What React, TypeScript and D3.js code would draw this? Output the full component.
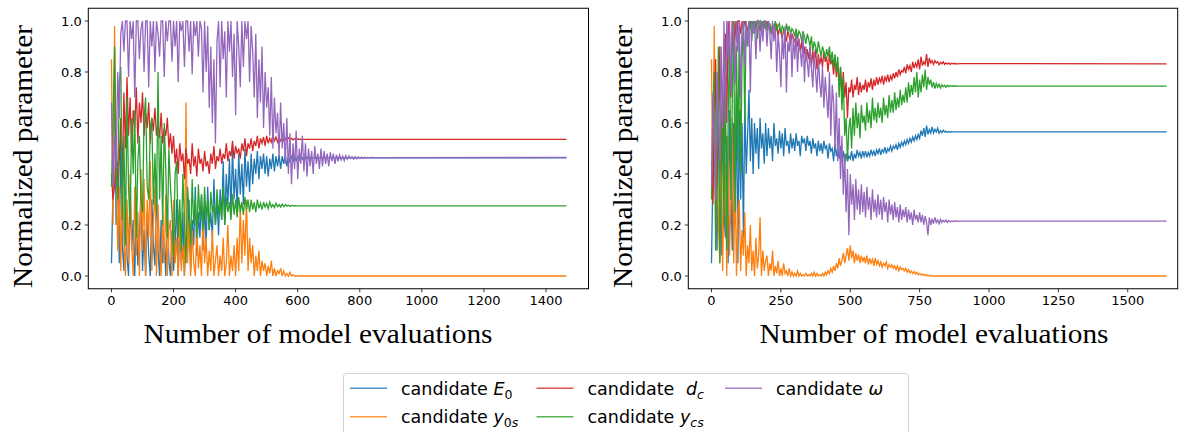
import React from 'react';
import * as d3 from 'd3';

// ---------------- data ----------------
const seriesKeys = ['E0', 'y0s', 'dc', 'ycs', 'omega'];
const colors: Record<string, string> = {
  E0: '#1f77b4', y0s: '#ff7f0e', dc: '#d62728', ycs: '#2ca02c', omega: '#9467bd',
};

// left run: samples every 5 model evaluations, then the converged value at the last evaluation
const leftStep = 5;
const leftLastEval = 1466;
const leftXTicks = [0, 200, 400, 600, 800, 1000, 1200, 1400];

const leftE0 = [
  .05,.35,.82,.20,.45,.05,.55,.12,.02,.30,
  .08,.0,.35,.10,.22,.0,.28,.04,.15,.32,
  .02,.18,.0,.25,.08,.0,.30,.12,.04,.38,
  .10,.0,.22,.05,.15,.0,.28,.06,.0,.18,
  .02,.12,.30,.0,.20,.05,.25,.0,.15,.10,
  .30,.02,.22,.12,.35,.08,.25,.15,.32,.10,
  .28,.12,.35,.18,.25,.15,.38,.20,.30,.16,
  .34,.22,.45,.20,.40,.28,.46,.25,.50,.30,
  .42,.26,.48,.32,.44,.28,.50,.35,.45,.33,
  .48,.36,.46,.40,.49,.38,.47,.42,.48,.40,
  .47,.39,.46,.42,.48,.41,.47,.43,.475,.42,
  .47,.44,.475,.43,.47,.445,.472,.45,.47,.452,
  .468,.455,.47,.458,.468,.46,.466,.46,.465,.462,
  .465,.462,.464,.463];
const leftY0s = [
  .85,.20,.98,.45,.10,.35,.02,.42,.15,.0,
  .30,.05,.40,.12,.0,.35,.08,.25,.0,.42,
  .10,.38,.0,.30,.15,.45,.02,.22,.35,.0,
  .28,.10,.0,.25,.05,.32,.0,.18,.22,.0,
  .30,.05,.15,.0,.25,.02,.12,.0,.68,.05,
  .22,.0,.18,.05,.0,.20,.03,.12,.0,.25,
  .05,.15,.0,.10,.02,.18,.0,.06,.12,.0,
  .08,.02,.15,.0,.05,.20,.0,.08,.02,.12,
  .0,.15,.02,.28,.05,.22,.08,.30,.02,.15,
  .05,.12,.0,.08,.02,.10,.0,.06,.02,.05,
  .0,.04,.01,.06,.0,.03,.0,.02,.01,.03,
  .0,.02,.0,.01,.0,.015,.0,.005,.0,.0];
const leftDc = [
  .40,.30,.35,.55,.32,.45,.62,.38,.72,.50,
  .78,.55,.70,.48,.65,.58,.74,.52,.68,.60,
  .72,.55,.64,.58,.68,.52,.62,.57,.66,.55,
  .60,.54,.64,.52,.58,.55,.62,.50,.56,.48,
  .55,.44,.50,.40,.52,.45,.48,.38,.50,.44,
  .46,.40,.52,.43,.47,.39,.50,.44,.46,.41,
  .49,.43,.45,.40,.48,.44,.51,.42,.47,.45,
  .50,.44,.48,.46,.52,.45,.49,.47,.53,.46,
  .51,.48,.50,.46,.52,.49,.54,.47,.52,.50,
  .54,.49,.53,.51,.55,.50,.54,.52,.545,.51,
  .55,.52,.54,.525,.55,.53,.545,.525,.54,.53,
  .545,.53,.54,.532,.542,.535,.54,.534,.538,.535,
  .538,.535,.537,.535,.536];
const leftYcs = [
  .35,.60,.90,.40,.30,.75,.82,.22,.55,.12,
  .70,.35,.20,.62,.40,.65,.15,.45,.55,.30,
  .25,.62,.70,.35,.30,.58,.62,.28,.48,.25,
  .80,.30,.55,.20,.60,.42,.15,.50,.35,.25,
  .08,.40,.45,.15,.30,.10,.40,.22,.05,.35,
  .25,.12,.38,.20,.30,.15,.36,.22,.32,.18,
  .35,.22,.30,.18,.33,.25,.28,.20,.34,.24,
  .30,.22,.35,.20,.31,.25,.29,.22,.32,.24,
  .30,.23,.31,.25,.29,.24,.31,.26,.30,.25,
  .30,.26,.29,.25,.30,.265,.285,.26,.29,.27,
  .285,.265,.29,.27,.28,.268,.285,.272,.28,.27,
  .282,.272,.28,.274,.278,.273,.277,.275,.276,.275];
const leftOmega = [
  .68,.35,.55,.42,.80,.62,.95,
  1.0,.88,1.0,1.0,.78,1.0,.93,1.0,.70,1.0,
  1.0,.85,.97,1.0,.80,1.0,1.0,.74,1.0,.90,
  1.0,.80,1.0,.95,.86,1.0,1.0,.78,1.0,.92,
  1.0,1.0,.84,1.0,.90,1.0,.76,1.0,.96,1.0,
  .82,1.0,1.0,.88,1.0,.79,1.0,.94,1.0,.86,
  1.0,.97,.72,1.0,.80,.98,.66,.90,.60,.85,
  .52,.92,1.0,.74,1.0,.85,.96,.70,1.0,.88,
  1.0,.78,.95,.63,1.0,.90,.74,1.0,.82,1.0,
  .93,1.0,.76,.98,.88,.70,.95,.62,.85,.68,
  .90,.58,.80,.66,.74,.55,.78,.50,.70,.56,
  .64,.47,.68,.50,.60,.44,.62,.40,.56,.36,
  .52,.42,.57,.38,.50,.44,.55,.41,.52,.39,
  .50,.43,.49,.40,.51,.44,.48,.42,.50,.43,
  .49,.44,.48,.43,.485,.45,.48,.44,.475,.45,
  .475,.455,.47,.452,.472,.458,.47,.46,.468,.458,
  .468,.46,.467,.462,.466,.461,.466,.463,.465,.463,
  .465,.464,.465,.464];
const leftFinal = [.463, 0, .536, .275, .465];

// right run
const rightStep = 5;
const rightLastEval = 1640;
const rightXTicks = [0, 250, 500, 750, 1000, 1250, 1500];

const rightE0 = [
  .05,.40,.85,.30,.10,.60,.45,.08,.70,.25,
  .15,.55,.05,.65,.35,.10,.60,.20,.72,.05,
  .65,.30,.60,.15,.70,.40,.55,.73,.45,.62,
  .40,.60,.48,.58,.42,.62,.50,.56,.44,.60,
  .47,.58,.50,.55,.45,.60,.51,.54,.48,.57,
  .50,.56,.47,.58,.51,.53,.48,.56,.50,.54,
  .49,.56,.51,.53,.47,.55,.52,.54,.49,.55,
  .51,.53,.48,.54,.50,.52,.47,.53,.49,.52,
  .48,.53,.50,.51,.46,.52,.49,.50,.45,.52,
  .47,.50,.46,.51,.45,.49,.44,.48,.45,.47,
  .46,.49,.45,.48,.46,.495,.47,.485,.46,.49,
  .47,.49,.465,.485,.47,.495,.475,.49,.47,.495,
  .48,.50,.475,.495,.485,.505,.48,.50,.49,.51,
  .49,.51,.50,.515,.495,.52,.505,.525,.51,.53,
  .515,.535,.52,.54,.525,.545,.53,.55,.535,.555,
  .54,.57,.55,.58,.545,.59,.555,.575,.56,.585,
  .56,.575,.565,.58,.56,.57,.562,.572,.564,.568,
  .563,.567,.564,.566,.565,.565,.565];
const rightY0s = [
  .85,.30,.98,.10,.55,.20,.05,.60,.02,.35,
  .45,.0,.55,.08,.30,.62,.05,.40,.0,.25,
  .30,.02,.18,.08,.25,.0,.12,.05,.20,.02,
  .10,.0,.15,.03,.08,.23,.0,.10,.02,.06,
  .08,.0,.05,.02,.10,.0,.04,.01,.06,.0,
  .03,.0,.05,.01,.02,.0,.03,.0,.015,.0,
  .01,.0,.02,.0,.01,.0,.005,.0,.01,.0,
  .005,.0,.01,.0,.015,.0,.01,.0,.005,.0,
  .01,.0,.015,.005,.02,.01,.03,.015,.04,.02,
  .05,.03,.07,.04,.06,.09,.05,.08,.11,.06,
  .12,.07,.10,.05,.09,.06,.085,.05,.08,.055,
  .075,.05,.08,.045,.07,.05,.065,.04,.07,.045,
  .06,.04,.055,.035,.05,.04,.055,.03,.045,.035,
  .045,.03,.04,.025,.04,.02,.035,.025,.03,.02,
  .03,.015,.025,.012,.02,.01,.018,.008,.015,.005,
  .01,.004,.008,.002,.006,.0,.004,.0,.002,.0];
const rightDc = [
  .45,.28,.60,.85,.35,.55,.90,.40,.75,.50,
  .95,.60,1.0,.80,.70,1.0,.85,1.0,.92,1.0,
  1.0,.95,1.0,.97,1.0,.98,.96,1.0,.97,1.0,
  .98,1.0,.97,1.0,.99,.96,1.0,.98,1.0,.97,
  1.0,.97,.99,.95,.98,.97,.96,.99,.94,.97,
  .96,.93,.97,.95,.92,.96,.94,.91,.95,.93,
  .92,.95,.90,.93,.88,.92,.86,.90,.84,.89,
  .85,.90,.82,.88,.84,.89,.81,.87,.83,.86,
  .82,.88,.84,.86,.80,.87,.83,.85,.79,.86,
  .78,.84,.75,.82,.72,.80,.70,.76,.62,.74,
  .72,.77,.70,.75,.73,.78,.71,.76,.72,.75,
  .73,.77,.72,.76,.74,.775,.73,.77,.745,.78,
  .75,.775,.76,.785,.75,.78,.765,.79,.76,.785,
  .77,.795,.775,.80,.78,.81,.79,.805,.80,.82,
  .795,.83,.81,.825,.80,.84,.815,.835,.82,.85,
  .81,.86,.825,.84,.83,.87,.82,.855,.835,.845,
  .83,.845,.835,.84,.828,.838,.832,.84,.83,.836,
  .831,.835,.83,.834,.832,.834,.831,.833,.832,.833];
const rightYcs = [
  .30,.65,.80,.10,.50,.90,.05,.40,.75,.20,
  .85,.10,.60,.95,.30,.70,1.0,.25,.90,.45,
  .98,.40,.85,1.0,.60,1.0,.90,.98,1.0,.92,
  1.0,.95,1.0,.93,.99,1.0,.96,1.0,.97,1.0,
  .96,1.0,.98,.95,.99,.97,1.0,.96,.98,.99,
  .95,.98,.97,.94,.99,.96,.98,.95,.97,.96,
  .94,.97,.93,.96,.95,.92,.96,.94,.91,.95,
  .93,.90,.94,.88,.92,.90,.87,.92,.89,.86,
  .90,.88,.85,.89,.86,.90,.84,.88,.82,.87,
  .80,.86,.70,.82,.65,.78,.55,.62,.45,.58,
  .62,.50,.66,.55,.68,.58,.64,.54,.67,.60,
  .63,.57,.68,.60,.65,.58,.70,.61,.66,.60,
  .68,.62,.66,.60,.70,.63,.67,.62,.71,.64,
  .69,.64,.72,.65,.70,.66,.73,.67,.71,.68,
  .74,.68,.76,.70,.75,.71,.78,.72,.80,.70,
  .77,.72,.79,.74,.81,.73,.78,.75,.77,.74,
  .76,.735,.755,.74,.752,.737,.75,.742,.748,.74,
  .748,.743,.747,.744,.746,.745,.746,.744,.745,.745];
const rightOmega = [
  .35,.72,.55,.30,.80,.62,.45,.90,.58,1.0,
  .60,1.0,.85,1.0,.72,1.0,.95,.75,1.0,.88,
  1.0,.70,.98,1.0,.82,1.0,.90,1.0,.72,1.0,
  .95,1.0,.85,1.0,1.0,.88,1.0,.92,1.0,1.0,
  .90,1.0,.96,.85,1.0,.92,.98,.80,.95,.88,
  .74,.95,.85,.98,.72,.92,.88,.96,.78,.94,
  .85,.95,.80,.93,.88,.82,.95,.76,.90,.84,
  .78,.90,.82,.74,.88,.80,.72,.86,.76,.70,
  .82,.66,.78,.70,.62,.80,.55,.75,.68,.50,
  .72,.45,.62,.38,.55,.32,.48,.25,.42,.16,
  .40,.28,.36,.22,.38,.26,.34,.24,.36,.25,
  .33,.23,.35,.26,.31,.22,.34,.25,.30,.23,
  .32,.24,.30,.22,.31,.25,.29,.21,.30,.24,
  .28,.22,.29,.23,.27,.21,.28,.22,.26,.23,
  .27,.21,.26,.22,.25,.20,.26,.22,.24,.21,
  .25,.21,.24,.20,.235,.21,.16,.23,.20,.225,
  .205,.23,.21,.22,.205,.222,.21,.218,.212,.22,
  .21,.218,.212,.216,.213,.217,.214,.216,.214,.215];
const rightFinal = [.565, 0, .832, .745, .215];

const yTicks = [0, 0.2, 0.4, 0.6, 0.8, 1.0];
const xLabel = 'Number of model evaluations';
const yLabel = 'Normalized parameter';

// ---------------- drawing ----------------
const TICK_FONT = '"DejaVu Sans", sans-serif';
const LABEL_FONT = '"Liberation Serif", "DejaVu Serif", serif';

type PanelProps = {
  left: number; right: number; top: number; bottom: number;
  xDomain: [number, number];
  xTicks: number[];
  step: number; lastEval: number;
  data: number[][]; finals: number[];
  id: string;
  yLabelX: number; yLabelCy: number;
  xLabelCx: number; xLabelY: number;
};

function Panel(p: PanelProps) {
  const x = d3.scaleLinear().domain(p.xDomain).range([p.left, p.right]);
  const y = d3.scaleLinear().domain([-0.05, 1.05]).range([p.bottom, p.top]);
  const line = d3.line<[number, number]>().x(d => x(d[0])).y(d => y(d[1]));
  return (
    <g>
      <defs>
        <clipPath id={p.id}>
          <rect x={p.left} y={p.top} width={p.right - p.left} height={p.bottom - p.top} />
        </clipPath>
      </defs>
      <g clipPath={`url(#${p.id})`}>
        {p.data.map((vals, si) => {
          const pts: [number, number][] = vals.map((v, i) => [i * p.step, v] as [number, number]);
          pts.push([p.lastEval, p.finals[si]]);
          return (
            <path key={si} d={line(pts) || ''} fill="none" stroke={colors[seriesKeys[si]]}
              strokeWidth={1.3} strokeLinejoin="miter" />
          );
        })}
      </g>
      <rect x={p.left} y={p.top} width={p.right - p.left} height={p.bottom - p.top}
        fill="none" stroke="#000" strokeWidth={1} />
      {yTicks.map(t => (
        <g key={'y' + t}>
          <line x1={p.left - 3.5} x2={p.left} y1={y(t)} y2={y(t)} stroke="#000" strokeWidth={0.8} />
          <text x={p.left - 6.5} y={y(t)} dy="0.36em" textAnchor="end" fontFamily={TICK_FONT}
            fontSize={13} fill="#000">{t.toFixed(1)}</text>
        </g>
      ))}
      {p.xTicks.map(t => (
        <g key={'x' + t}>
          <line x1={x(t)} x2={x(t)} y1={p.bottom} y2={p.bottom + 3.5} stroke="#000" strokeWidth={0.8} />
          <text x={x(t)} y={p.bottom + 16} textAnchor="middle" fontFamily={TICK_FONT}
            fontSize={13} fill="#000">{t}</text>
        </g>
      ))}
      <text x={p.xLabelCx} y={p.xLabelY} textAnchor="middle" fontFamily={LABEL_FONT}
        fontSize={28} textLength={349} lengthAdjust="spacingAndGlyphs" fill="#000">{xLabel}</text>
      <text transform={`translate(${p.yLabelX},${p.yLabelCy}) rotate(-90)`} textAnchor="middle"
        fontFamily={LABEL_FONT} fontSize={28} textLength={263} lengthAdjust="spacingAndGlyphs"
        fill="#000">{yLabel}</text>
    </g>
  );
}

const LEG_FONT = '"DejaVu Sans", sans-serif';
const LFS = 17.5;
const SUB = 12.5;

function LegendLabel({ k }: { k: string }) {
  if (k === 'E0') return (<><tspan>candidate </tspan><tspan fontStyle="italic">E</tspan><tspan dy={4} fontSize={SUB}>0</tspan></>);
  if (k === 'dc') return (<><tspan>candidate </tspan><tspan dx={6} fontStyle="italic">d</tspan><tspan dy={4} fontSize={SUB} fontStyle="italic">c</tspan></>);
  if (k === 'y0s') return (<><tspan>candidate </tspan><tspan fontStyle="italic">y</tspan><tspan dy={4} fontSize={SUB}>0</tspan><tspan fontSize={SUB} fontStyle="italic">s</tspan></>);
  if (k === 'ycs') return (<><tspan>candidate </tspan><tspan fontStyle="italic">y</tspan><tspan dy={4} fontSize={SUB} fontStyle="italic">cs</tspan></>);
  return (<><tspan>candidate </tspan><tspan fontStyle="italic">ω</tspan></>);
}

function Legend() {
  const cols = [350, 536.5, 725];
  const rows = [388.3, 416.7];
  const order = ['E0', 'y0s', 'dc', 'ycs', 'omega'];
  return (
    <g>
      <rect x={343.5} y={373.5} width={565} height={80} rx={3} fill="#fff" fillOpacity={0.8}
        stroke="#d3d3d3" strokeWidth={1} />
      {order.map((k, i) => {
        const cx = cols[Math.floor(i / 2)];
        const cy = rows[i % 2];
        return (
          <g key={k}>
            <line x1={cx} x2={cx + 37} y1={cy} y2={cy} stroke={colors[k]} strokeWidth={1.5} strokeOpacity={0.8} />
            <text x={cx + 51} y={cy + 6.5} fontFamily={LEG_FONT} fontSize={LFS} fill="#000">
              <LegendLabel k={k} />
            </text>
          </g>
        );
      })}
    </g>
  );
}

export default function App() {
  const leftData = [leftE0, leftY0s, leftDc, leftYcs, leftOmega];
  const rightData = [rightE0, rightY0s, rightDc, rightYcs, rightOmega];
  return (
    <svg width={1186} height={432} style={{ position: 'absolute', left: 0, top: 0, background: '#fff' }}>
      <rect x={0} y={0} width={1186} height={432} fill="#fff" />
      <Panel id="clipL" left={88.3} right={588.5} top={8.25} bottom={288.75}
        xDomain={[-74.7, 1537]} xTicks={leftXTicks} step={leftStep} lastEval={leftLastEval}
        data={leftData} finals={leftFinal} yLabelX={31.5} yLabelCy={156.5}
        xLabelCx={318} xLabelY={343} />
      <Panel id="clipR" left={688.3} right={1177.7} top={8.25} bottom={288.75}
        xDomain={[-83.6, 1680]} xTicks={rightXTicks} step={rightStep} lastEval={rightLastEval}
        data={rightData} finals={rightFinal} yLabelX={631.5} yLabelCy={156.5}
        xLabelCx={934} xLabelY={343} />
      <Legend />
    </svg>
  );
}
